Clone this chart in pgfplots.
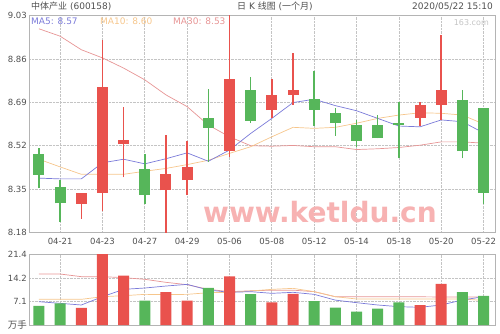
\documentclass[border=0pt]{standalone}
\usepackage{pgfplots}
\pgfplotsset{compat=1.18}
\usepackage{pgfplotstable}
\usepackage{fontspec}
\setmainfont{DejaVu Sans}
\newfontfamily\cjk{Noto Sans CJK SC}

\definecolor{kred}{HTML}{E9524D}
\definecolor{kgreen}{HTML}{56B65A}
\definecolor{maf}{HTML}{7B7BD9}
\definecolor{mam}{HTML}{F6C68C}
\definecolor{mas}{HTML}{E79595}
\definecolor{gridc}{HTML}{C4C4C4}
\definecolor{framec}{HTML}{B4B4B4}
\definecolor{txt}{HTML}{505050}
\definecolor{wm}{HTML}{F7B2B2}

% daily candles: index, open, close, high, low
\pgfplotstableread{
i o c h l
2 8.293 8.336 8.336 8.234
3 8.335 8.751 8.936 8.263
4 8.527 8.541 8.671 8.396
6 8.345 8.408 8.562 8.170
7 8.385 8.437 8.538 8.326
9 8.499 8.783 9.100 8.476
11 8.659 8.720 8.782 8.630
12 8.720 8.740 8.883 8.680
18 8.630 8.681 8.693 8.597
19 8.680 8.739 8.955 8.621
}\upcandles
\pgfplotstableread{
i o c h l
0 8.488 8.407 8.511 8.356
1 8.357 8.294 8.386 8.223
5 8.427 8.327 8.486 8.293
8 8.630 8.590 8.742 8.457
10 8.739 8.618 8.789 8.608
13 8.703 8.660 8.814 8.598
14 8.647 8.608 8.669 8.559
15 8.601 8.539 8.621 8.516
16 8.600 8.549 8.640 8.549
17 8.608 8.601 8.690 8.470
20 8.698 8.499 8.739 8.470
21 8.669 8.335 8.669 8.293
}\downcandles

% moving averages of the close
\pgfplotstableread{
i ma5 ma10 ma30
0 8.393 8.467 8.978
1 8.390 8.437 8.949
2 8.390 8.408 8.896
3 8.453 8.408 8.864
4 8.467 8.408 8.824
5 8.449 8.420 8.778
6 8.469 8.431 8.719
7 8.492 8.446 8.673
8 8.459 8.463 8.601
9 8.503 8.490 8.555
10 8.568 8.516 8.520
11 8.627 8.555 8.518
12 8.689 8.592 8.521
13 8.702 8.588 8.516
14 8.677 8.592 8.516
15 8.657 8.608 8.505
16 8.627 8.627 8.508
17 8.597 8.640 8.513
18 8.594 8.649 8.522
19 8.621 8.647 8.535
20 8.614 8.640 8.535
21 8.570 8.605 8.530
}\priceMA

% volume (10k lots)
\pgfplotstableread{
i v
2 5.20
3 21.40
4 14.87
6 9.90
7 7.33
9 14.67
11 6.83
12 9.40
18 5.98
19 12.36
}\upvol
\pgfplotstableread{
i v
0 5.73
1 6.53
5 7.33
8 11.20
10 9.34
13 7.18
14 5.22
15 4.02
16 4.92
17 6.83
20 9.90
21 8.80
}\downvol
\pgfplotstableread{
i ma5 ma10 ma30
0 7.03 7.74 15.37
1 6.53 7.74 15.37
2 6.03 7.74 14.57
3 8.53 8.53 14.57
4 10.75 8.84 14.27
5 11.15 9.24 13.77
6 11.75 9.14 12.86
7 12.25 9.24 12.15
8 10.55 9.74 10.75
9 9.85 9.85 10.05
10 10.05 10.25 10.30
11 9.55 10.75 10.50
12 9.85 11.05 10.50
13 9.24 10.05 10.05
14 7.50 8.53 8.53
15 6.73 7.84 8.53
16 6.03 7.84 8.53
17 5.53 7.84 8.50
18 5.33 7.84 8.50
19 6.03 7.84 8.45
20 7.54 7.84 8.45
21 8.53 7.40 8.40
}\volMA

\pgfplotsset{
  kbase/.style={
    scale only axis,
    width=466pt,
    xmin=-0.47, xmax=21.54,
    xtick={1,3,...,21},
    axis line style={draw=framec, line width=0.8pt},
    tick style={draw=none},
    grid=major,
    major grid style={densely dotted, draw=gridc, line width=0.7pt},
    ticklabel style={font=\fontsize{8.5}{10}\selectfont, text=txt},
    yticklabel style={anchor=east, inner sep=0pt, xshift=-2pt},
    /pgf/number format/assume math mode=true,
  },
  % candle body / wick: a vertical segment from y to y + error
  candle/.style={draw=none, mark=none, forget plot,
    error bars/.cd, y dir=plus, y explicit, error mark=none,
    error bar style={draw=#1, line width=11pt}},
  wick/.style={draw=none, mark=none, forget plot,
    error bars/.cd, y dir=plus, y explicit, error mark=none,
    error bar style={draw=#1, line width=1.5pt}},
}

\begin{document}
\begin{tikzpicture}
\path (0pt,0pt) rectangle (500pt,333pt);

% price panel
\begin{axis}[kbase,
  at={(29pt,100.5pt)}, anchor=south west,
  height=217pt,
  ymin=8.18, ymax=9.03,
  ytick={8.18,8.35,8.52,8.69,8.86,9.03},
  yticklabels={8.18,8.35,8.52,8.69,8.86,9.03},
  xticklabels={04-21,04-23,04-27,04-29,05-06,05-08,05-12,05-14,05-18,05-20,05-22},
  xticklabel style={anchor=center, yshift=-9pt},
]
\addplot[mas, line width=0.7pt, mark=none] table[x=i, y=ma30] {\priceMA};
\addplot[mam, line width=0.7pt, mark=none] table[x=i, y=ma10] {\priceMA};
\addplot[maf, line width=0.7pt, mark=none] table[x=i, y=ma5] {\priceMA};
\addplot[wick=kred] table[x=i, y=l, y error plus expr={\thisrow{h}-\thisrow{l}}] {\upcandles};
\addplot[wick=kgreen] table[x=i, y=l, y error plus expr={\thisrow{h}-\thisrow{l}}] {\downcandles};
\addplot[candle=kred] table[x=i, y=o, y error plus expr={\thisrow{c}-\thisrow{o}}] {\upcandles};
\addplot[candle=kgreen] table[x=i, y=c, y error plus expr={\thisrow{o}-\thisrow{c}}] {\downcandles};
\end{axis}

% volume panel
\begin{axis}[kbase,
  at={(29pt,8pt)}, anchor=south west,
  height=71pt,
  ymin=0, ymax=21.4,
  ytick={0,7.1,14.2,21.4},
  yticklabels={{\cjk\fontsize{9.5}{10}\selectfont 万手},7.1,14.2,21.4},
  xticklabels={},
]
\addplot[mas, line width=0.7pt, mark=none] table[x=i, y=ma30] {\volMA};
\addplot[mam, line width=0.7pt, mark=none] table[x=i, y=ma10] {\volMA};
\addplot[maf, line width=0.7pt, mark=none] table[x=i, y=ma5] {\volMA};
\addplot[ybar, bar width=11pt, bar shift=0pt, fill=kred, draw=none] table[x=i, y=v] {\upvol};
\addplot[ybar, bar width=11pt, bar shift=0pt, fill=kgreen, draw=none] table[x=i, y=v] {\downvol};
\end{axis}

% watermark
\node[anchor=base west, inner sep=0pt, text=wm, font=\fontsize{28}{28}\selectfont\bfseries] at (203pt,111pt) {www.ketldu.cn};

% headings
\begin{scope}[every node/.style={inner sep=0pt, text=txt, font=\fontsize{9}{10}\selectfont}]
\node[anchor=west] at (31pt,326.5pt) {{\cjk 中体产业} (600158)};
\node[anchor=west] at (237pt,326.5pt) {{\cjk 日} K {\cjk 线图} ({\cjk 一个月})};
\node[anchor=east] at (493pt,326.5pt) {2020/05/22 15:10};
\node[anchor=west, text=maf] at (31pt,311.5pt) {MA5: 8.57};
\node[anchor=west, text=mam] at (100pt,311.5pt) {MA10: 8.60};
\node[anchor=west, text=mas] at (173pt,311.5pt) {MA30: 8.53};
\node[anchor=east, text=gridc, font=\fontsize{8}{9}\selectfont] at (489pt,310pt) {163.com};
\end{scope}
\end{tikzpicture}
\end{document}
